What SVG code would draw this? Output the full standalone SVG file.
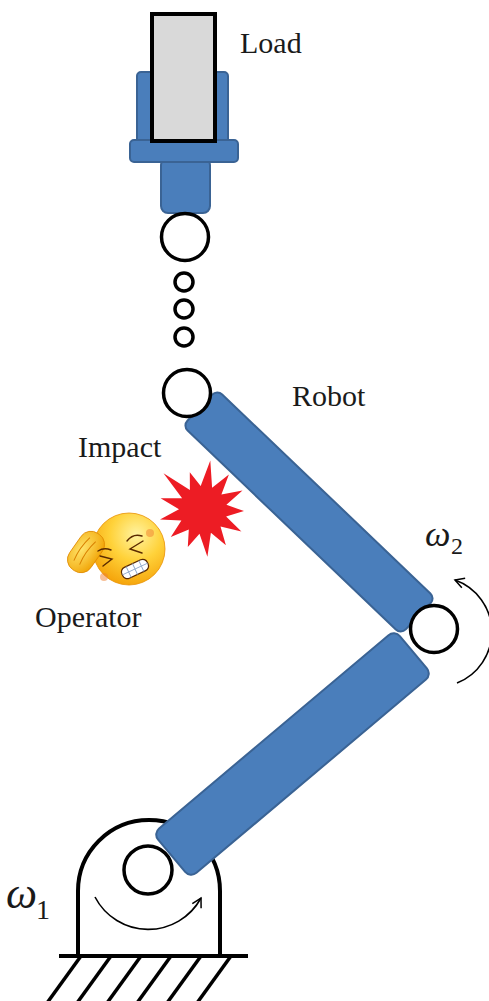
<svg xmlns="http://www.w3.org/2000/svg" width="489" height="1001" viewBox="0 0 489 1001">
  <style>
    .blue { fill: #4a7ebb; stroke: #3a6394; stroke-width: 2; }
    .joint { fill: #ffffff; stroke: #000000; stroke-width: 3.5; }
    .ink { fill: none; stroke: #000000; }
    .label { font-family: "Liberation Serif", "Times New Roman", serif; font-size: 30px; fill: #1a1a1a; }
    .omega { font-family: "Liberation Serif", "Times New Roman", serif; font-style: italic; fill: #1a1a1a; }
    .sub { font-family: "Liberation Serif", "Times New Roman", serif; fill: #1a1a1a; }
    .face-line { fill: none; stroke: #5a2a00; stroke-width: 1.4; stroke-linecap: round; }
  </style>
  <defs>
    <radialGradient id="faceGrad" cx="0.6" cy="0.3" r="0.8">
      <stop offset="0" stop-color="#fff3a0"/>
      <stop offset="0.45" stop-color="#ffd23a"/>
      <stop offset="1" stop-color="#f39a00"/>
    </radialGradient>
    <radialGradient id="handGrad" cx="0.5" cy="0.3" r="0.8">
      <stop offset="0" stop-color="#ffe46a"/>
      <stop offset="1" stop-color="#f0a000"/>
    </radialGradient>
    <marker id="openHead" viewBox="0 0 12 12" refX="10" refY="6" markerWidth="12" markerHeight="12" markerUnits="userSpaceOnUse" orient="auto">
      <path d="M1,1 L10,6 L1,11" fill="none" stroke="#000" stroke-width="1.5"/>
    </marker>
  </defs>

  <!-- gripper holding the load -->
  <g id="gripper">
    <rect class="blue" x="137" y="72" width="91" height="80" rx="4"/>
    <rect class="blue" x="161" y="158" width="49" height="55" rx="7"/>
    <rect class="blue" x="130" y="140" width="108" height="22" rx="4"/>
  </g>
  <g id="load">
    <rect x="152" y="14" width="63" height="127" fill="#d9d9d9" stroke="#000" stroke-width="4"/>
    <text class="label" x="240" y="53">Load</text>
  </g>

  <!-- wrist joint and elided joints -->
  <g id="wrist-joint">
    <circle class="joint" cx="185" cy="237" r="23.5"/>
  </g>
  <g id="elided-joints">
    <circle class="joint" cx="184" cy="282" r="9" stroke-width="3"/>
    <circle class="joint" cx="184" cy="309" r="9" stroke-width="3"/>
    <circle class="joint" cx="184" cy="337" r="9" stroke-width="3"/>
  </g>

  <!-- base -->
  <g id="base">
    <path class="ink" stroke-width="4" d="M78,957 V891 A71,71 0 0 1 220,891 V957"/>
    <path class="ink" stroke-width="4" d="M59,956 H248"/>
    <g class="ink" stroke-width="3.5">
      <path d="M81,956 L47,1003"/>
      <path d="M111,956 L77,1003"/>
      <path d="M141,956 L107,1003"/>
      <path d="M171,956 L137,1003"/>
      <path d="M201,956 L167,1003"/>
      <path d="M231,956 L197,1003"/>
    </g>
    <circle class="joint" cx="148" cy="870" r="24"/>
  </g>

  <!-- arm links -->
  <g id="lower-link">
    <rect class="blue" x="-158" y="-29" width="316" height="58" rx="8" transform="translate(292.5,754) rotate(-40.1)"/>
  </g>
  <g id="upper-link">
    <rect class="blue" x="-151" y="-25" width="302" height="50" rx="7" transform="translate(309,512) rotate(43.7)"/>
  </g>

  <g id="shoulder-joint">
    <circle class="joint" cx="187" cy="393" r="23.5"/>
  </g>
  <g id="elbow-joint">
    <circle class="joint" cx="434" cy="629" r="23.5"/>
  </g>

  <text class="label" x="292" y="406">Robot</text>

  <!-- rotation arrows -->
  <g id="connectors">
    <path class="ink" stroke-width="1.6" d="M95,897 A60,60 0 0 0 201,898" marker-end="url(#openHead)"/>
    <path class="ink" stroke-width="1.6" d="M457,683 A55,55 0 0 0 455,580" marker-end="url(#openHead)"/>
  </g>

  <g id="omega1">
    <text class="omega" x="6" y="908" font-size="44">ω</text>
    <text class="sub" x="36" y="919" font-size="28">1</text>
  </g>
  <g id="omega2">
    <text class="omega" x="425" y="546" font-size="36">ω</text>
    <text class="sub" x="451" y="554" font-size="24">2</text>
  </g>

  <!-- impact -->
  <g id="impact">
    <text class="label" x="78" y="457">Impact</text>
    <polygon fill="#ed1c24" points="163.5,473.2 189.9,489.9 189.8,472.2 200.7,486.1 210.3,460.5 212.1,487.8 228.9,474.4 221.4,494.5 242.5,490.6 226.4,504.8 244,511.1 226.1,516.4 241.4,531.5 220.5,526.4 225.9,545.2 210.9,532.7 207.4,556.8 199.5,533.7 187.8,547 188.8,529.4 170.8,537 181.4,520.6 160,519.4 179,509.3 160.6,498.3 182.1,498.3"/>
  </g>

  <!-- operator -->
  <g id="operator">
    <circle cx="129" cy="549" r="36" fill="url(#faceGrad)" stroke="#e89000" stroke-width="0.8"/>
    <circle cx="150" cy="533" r="4" fill="#f08030" opacity="0.5"/>
    <circle cx="104" cy="577" r="4" fill="#f08030" opacity="0.5"/>
    <!-- hand on forehead -->
    <g transform="translate(86,552) rotate(-55)">
      <rect x="-22" y="-13" width="44" height="26" rx="12" fill="url(#handGrad)" stroke="#e08a00" stroke-width="0.8"/>
      <path d="M-14,-5 Q0,-8 14,-5 M-14,2 Q0,-1 14,2" fill="none" stroke="#d98000" stroke-width="1"/>
    </g>
    <!-- squinting eyes and brows -->
    <path class="face-line" d="M100,556 L112,559 L103,566"/>
    <path class="face-line" d="M143,541 L130,549 L142,553"/>
    <path class="face-line" d="M98,551 Q104,547 111,550"/>
    <path class="face-line" d="M127,541 Q133,533 142,536"/>
    <!-- gritted teeth -->
    <g transform="translate(135,569) rotate(-25)">
      <rect x="-14" y="-6" width="28" height="12" rx="5" fill="#ffffff" stroke="#5a2a00" stroke-width="1.2"/>
      <path d="M-14,0 H14 M-7,-6 V6 M0,-6 V6 M7,-6 V6" fill="none" stroke="#8fa8c8" stroke-width="0.9"/>
    </g>
    <text class="label" x="35" y="627">Operator</text>
  </g>
</svg>
